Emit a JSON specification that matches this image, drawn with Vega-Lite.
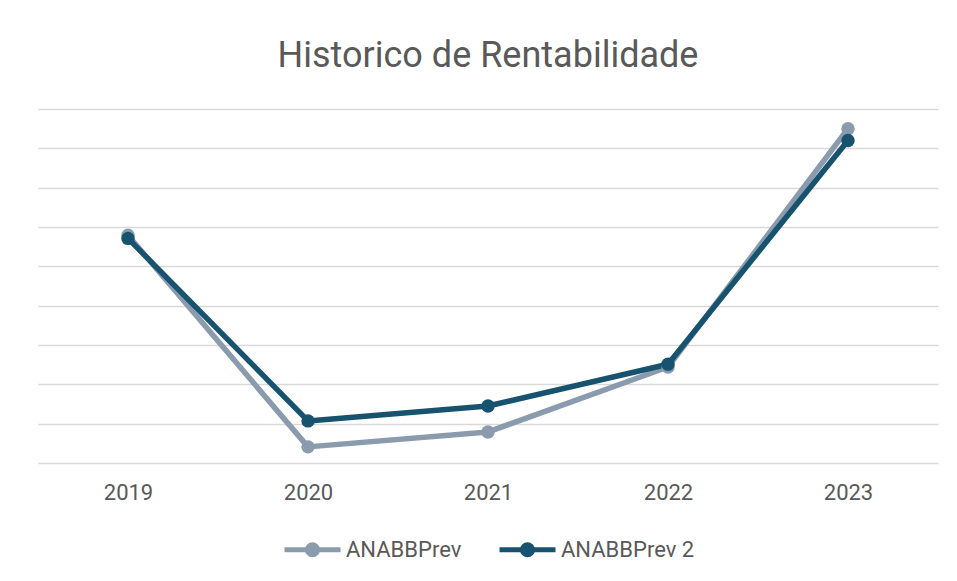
{
  "$schema": "https://vega.github.io/schema/vega-lite/v6.json",
  "width": 900,
  "height": 354,
  "autosize": {"type": "none"},
  "padding": {"left": 38, "top": 109, "right": 19, "bottom": 118},
  "background": "white",
  "title": {
    "text": "Historico de Rentabilidade",
    "font": "Roboto",
    "fontSize": 36,
    "fontWeight": "normal",
    "color": "#595959",
    "anchor": "middle",
    "offset": 34
  },
  "data": {
    "values": [
      {"year": "2019", "series": "ANABBPrev", "value": 5.79},
      {"year": "2020", "series": "ANABBPrev", "value": 0.41},
      {"year": "2021", "series": "ANABBPrev", "value": 0.79},
      {"year": "2022", "series": "ANABBPrev", "value": 2.44},
      {"year": "2023", "series": "ANABBPrev", "value": 8.5},
      {"year": "2019", "series": "ANABBPrev 2", "value": 5.71},
      {"year": "2020", "series": "ANABBPrev 2", "value": 1.07},
      {"year": "2021", "series": "ANABBPrev 2", "value": 1.45},
      {"year": "2022", "series": "ANABBPrev 2", "value": 2.51},
      {"year": "2023", "series": "ANABBPrev 2", "value": 8.2}
    ]
  },
  "encoding": {
    "x": {
      "field": "year",
      "type": "ordinal",
      "scale": {"type": "point", "padding": 0.5},
      "axis": {
        "title": null,
        "labelAngle": 0,
        "ticks": false,
        "domain": false,
        "grid": false,
        "labelFont": "Roboto",
        "labelFontSize": 22,
        "labelColor": "#595959",
        "labelPadding": 19
      }
    },
    "y": {
      "field": "value",
      "type": "quantitative",
      "scale": {"domain": [0, 9], "nice": false, "zero": true},
      "axis": {
        "title": null,
        "labels": false,
        "ticks": false,
        "domain": false,
        "values": [0, 1, 2, 3, 4, 5, 6, 7, 8, 9],
        "gridColor": "#D9D9D9",
        "gridWidth": 1.5
      }
    },
    "color": {
      "field": "series",
      "type": "nominal",
      "scale": {"domain": ["ANABBPrev", "ANABBPrev 2"], "range": ["#8A9BAD", "#17536F"]},
      "legend": {
        "title": null,
        "orient": "none",
        "direction": "horizontal",
        "legendX": 244,
        "legendY": 410,
        "padding": 0,
        "symbolType": "M-1,0L1,0M0.18,0A0.18,0.18 0 1,1 -0.18,0A0.18,0.18 0 1,1 0.18,0",
        "symbolSize": 3136,
        "labelFont": "Roboto",
        "labelFontSize": 22,
        "labelColor": "#595959",
        "labelOffset": 3,
        "columnPadding": 27,
        "encode": {
          "symbols": {
            "update": {
              "fill": {"scale": "color", "field": "value"},
              "stroke": {"scale": "color", "field": "value"},
              "strokeWidth": {"value": 5},
              "opacity": {"value": 1},
              "fillOpacity": {"value": 1}
            }
          }
        }
      }
    }
  },
  "layer": [
    {"mark": {"type": "line", "strokeWidth": 5.5, "strokeCap": "round", "strokeJoin": "round"}},
    {"mark": {"type": "point", "filled": true, "size": 180, "opacity": 1}}
  ],
  "config": {"view": {"stroke": null}}
}
